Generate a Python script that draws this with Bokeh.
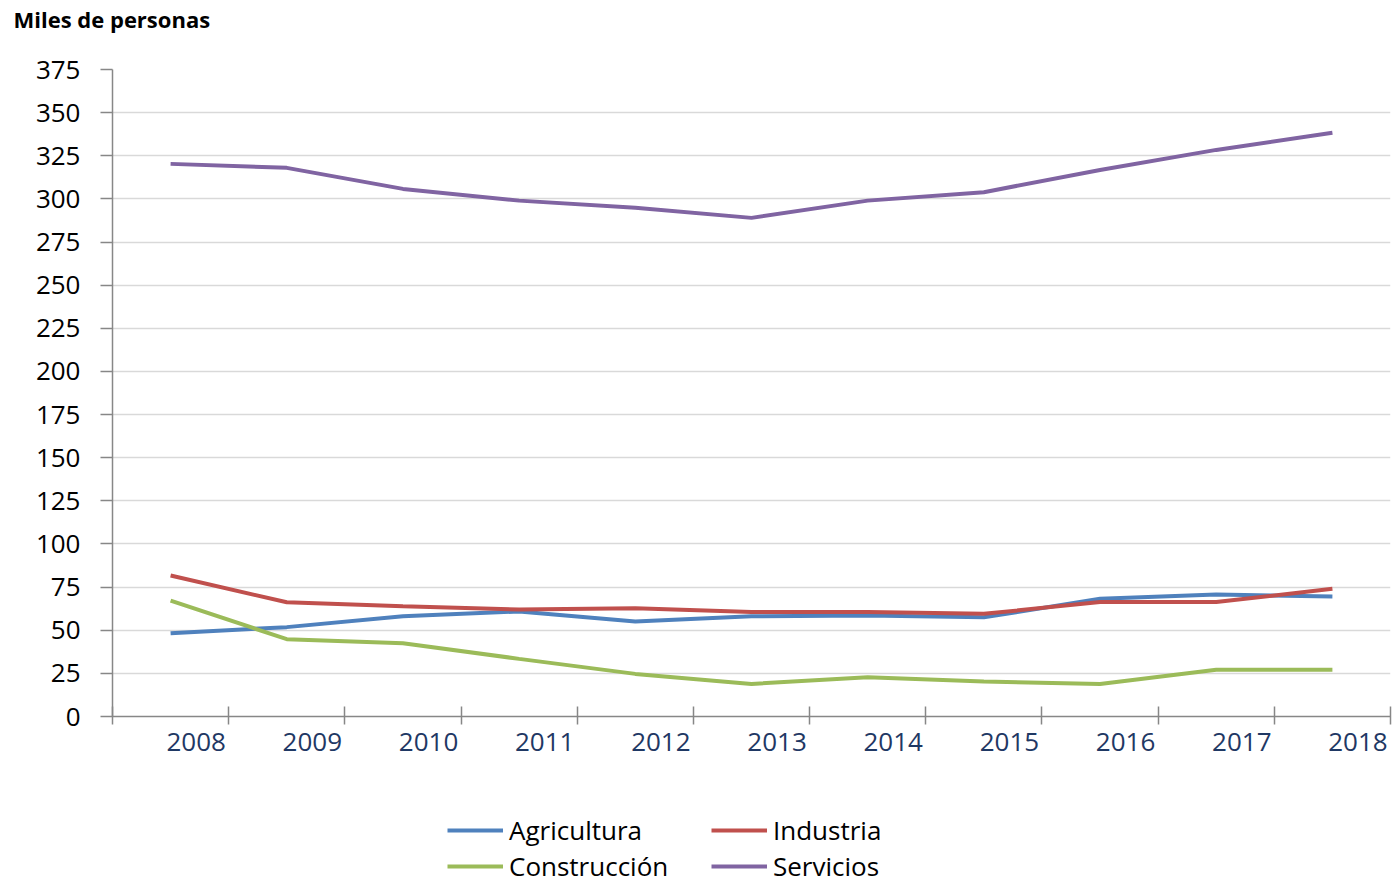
from bokeh.plotting import figure
from bokeh.layouts import column
from bokeh.models import (FixedTicker, Range1d, Legend, LegendItem, CustomJSTickFormatter)
from bokeh.embed import file_html
from bokeh.resources import INLINE

years = ["2008", "2009", "2010", "2011", "2012", "2013", "2014", "2015", "2016", "2017", "2018"]
agricultura = [48.3, 51.8, 58.1, 60.9, 55.1, 58.1, 58.5, 57.5, 68.2, 70.7, 69.6]
industria = [81.7, 66.2, 63.9, 62.0, 62.8, 60.5, 60.5, 59.5, 66.3, 66.3, 74.0]
construccion = [67.2, 44.8, 42.5, 33.4, 24.7, 18.9, 22.8, 20.3, 18.9, 27.1, 27.1]
servicios = [320.3, 318.0, 305.8, 299.0, 294.9, 289.0, 299.0, 303.9, 316.8, 328.4, 338.3]
y_ticks = list(range(0, 376, 25))

series = [("Agricultura", agricultura, "#4F81BD"),
          ("Industria", industria, "#C0504D"),
          ("Construcción", construccion, "#9BBB59"),
          ("Servicios", servicios, "#8064A2")]

idx = list(range(len(years)))
FONT = "Open Sans"
AXIS_GRAY = "#878787"
W = 1392


def blank_strip(height, title=None):
    f = figure(width=W, height=height, x_range=Range1d(-100, -99), y_range=Range1d(-100, -99),
               output_backend="svg", toolbar_location=None, title=title,
               x_axis_location=None, y_axis_location=None, min_border=0)
    f.outline_line_color = None
    f.grid.visible = False
    return f


# header strip carrying the title
p0 = blank_strip(40, "Miles de personas")
p0.title.text_font = FONT
p0.title.text_font_size = "22px"
p0.title.text_font_style = "bold"
p0.title.text_color = "black"
p0.title.align = "left"
p0.title.offset = -99
p0.title.standoff = 2

p = figure(width=W, height=730, x_range=Range1d(-0.5, len(years) - 0.5), y_range=Range1d(0, 375),
           output_backend="svg", toolbar_location=None,
           min_border_left=112, min_border_right=2, min_border_top=29, min_border_bottom=54)
p.outline_line_color = None
p.background_fill_color = "white"

# x axis: labels shifted right of category centre, boundary ticks as minor ticks
label_shift = 0.22
xa = p.xaxis[0]
xa.ticker = FixedTicker(ticks=[i + label_shift for i in idx],
                        minor_ticks=[i - 0.5 for i in range(len(years) + 1)])
xa.formatter = CustomJSTickFormatter(args=dict(labels=years, off=label_shift),
                                     code="return labels[Math.round(tick - off)]")
xa.major_tick_in = 0
xa.major_tick_out = 0
xa.minor_tick_in = 10
xa.minor_tick_out = 8
xa.minor_tick_line_color = AXIS_GRAY
xa.minor_tick_line_width = 1.5
xa.axis_line_color = AXIS_GRAY
xa.axis_line_width = 1.5
xa.major_label_text_font = FONT
xa.major_label_text_font_size = "26px"
xa.major_label_text_color = "#1F3864"
xa.major_label_standoff = 8

ya = p.yaxis[0]
ya.ticker = FixedTicker(ticks=y_ticks, minor_ticks=[])
ya.major_tick_in = 0
ya.major_tick_out = 12
ya.major_tick_line_color = AXIS_GRAY
ya.major_tick_line_width = 1.5
ya.axis_line_color = AXIS_GRAY
ya.axis_line_width = 1.5
ya.major_label_text_font = FONT
ya.major_label_text_font_size = "26px"
ya.major_label_text_color = "black"
ya.major_label_standoff = 20

p.xgrid.visible = False
p.ygrid.ticker = FixedTicker(ticks=y_ticks)
p.ygrid.grid_line_color = "#D9D9D9"
p.ygrid.grid_line_width = 1.5

for name, vals, col in series:
    p.line(idx, vals, line_color=col, line_width=4)

# legend strip underneath (same series, drawn outside its empty view so only the legend shows)
p2 = blank_strip(114)
rends = {}
for name, vals, col in series:
    rends[name] = p2.line(idx, vals, line_color=col, line_width=4)

leg = Legend(items=[LegendItem(label=name, renderers=[rends[name]]) for name, _, _ in series],
             orientation="horizontal", ncols=2, location=(335, 0))
leg.padding = 0
leg.margin = 0
leg.spacing = 0
leg.border_line_alpha = 0
leg.background_fill_alpha = 0
leg.label_text_font = FONT
leg.label_text_font_size = "26px"
leg.label_text_color = "black"
leg.glyph_width = 56
leg.glyph_height = 30
leg.label_height = 30
leg.label_width = 202
leg.label_standoff = 6
p2.add_layout(leg)

layout = column(p0, p, p2, spacing=0)
open("out.html", "w").write(file_html(layout, INLINE))
